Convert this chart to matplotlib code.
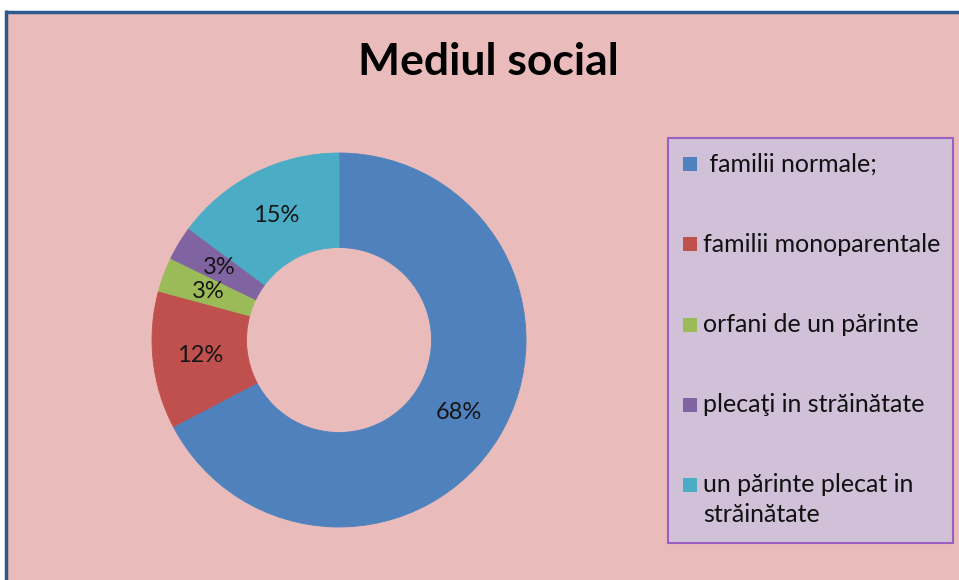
import matplotlib
matplotlib.use("Agg")
import matplotlib.pyplot as plt
from matplotlib.patches import Rectangle
import numpy as np

plt.rcParams['font.family'] = ['Lato', 'DejaVu Sans']

# ---- data ----
title = "Mediul social"
categories = [" familii normale;", "familii monoparentale", "orfani de un părinte",
              "plecaţi in străinătate", "un părinte plecat in\nstrăinătate"]
values = [68, 12, 3, 3, 15]
colors = ["#4F81BD", "#C0504D", "#9BBB59", "#8064A2", "#4BACC6"]

W, H = 959, 580
fig = plt.figure(figsize=(W / 100, H / 100), dpi=100, facecolor="white")
ax = fig.add_axes([0, 0, 1, 1])
ax.set_axis_off()

# chart area background (right/bottom continue past the image)
ax.add_patch(Rectangle((5.5, -100), W + 200, H - 11.5 + 100, facecolor="#E9BBBB",
                       edgecolor="none", zorder=0))
# top and left border lines
ax.plot([5.5, W + 10], [H - 11.5, H - 11.5], color="#2C5A8C", lw=2.5,
        solid_capstyle="butt", zorder=1)
ax.plot([5.5, 5.5], [H - 11.5 + 1.2, -10], color="#2C5A8C", lw=2.5,
        solid_capstyle="butt", zorder=1)

# donut
cx, cy = 339, H - 340
R_out, R_in = 187, 92.5
wedges, _ = ax.pie(values, colors=colors, startangle=90, counterclock=False,
                   radius=R_out, center=(cx, cy),
                   wedgeprops=dict(width=R_out - R_in, linewidth=0.6))
for w in wedges:
    w.set_edgecolor(w.get_facecolor())
ax.set_xlim(0, W)
ax.set_ylim(0, H)
ax.set_aspect("auto")
ax.set_axis_off()

r_lab = (R_out + R_in) / 2
for w, v in zip(wedges, values):
    th = np.deg2rad((w.theta1 + w.theta2) / 2)
    ax.text(cx + r_lab * np.cos(th), cy + r_lab * np.sin(th), f"{v}%",
            ha="center", va="center", fontsize=17, color="#151515", zorder=5)

# title
ax.text(488, H - 75, title, ha="center", va="baseline", fontsize=32,
        fontweight="bold", color="black", zorder=5)

# legend box
lx0, ly0, lx1, ly1 = 668, 138, 953, 543
ax.add_patch(Rectangle((lx0, H - ly1), lx1 - lx0, ly1 - ly0, facecolor="#D0C1D9",
                       edgecolor="#9A5FC0", linewidth=1.5, zorder=3))
row_y = [164, 244, 324.5, 405, 485]
line_gap = 30
for lab, col, ry in zip(categories, colors, row_y):
    ax.add_patch(Rectangle((682.5, H - ry - 7), 14, 14, facecolor=col,
                           edgecolor="none", zorder=4))
    for k, line in enumerate(lab.split("\n")):
        ax.text(703, H - ry - k * line_gap, line, ha="left", va="center",
                fontsize=18, color="#111111", zorder=5)

fig.savefig("out.png", dpi=100, facecolor="white")
